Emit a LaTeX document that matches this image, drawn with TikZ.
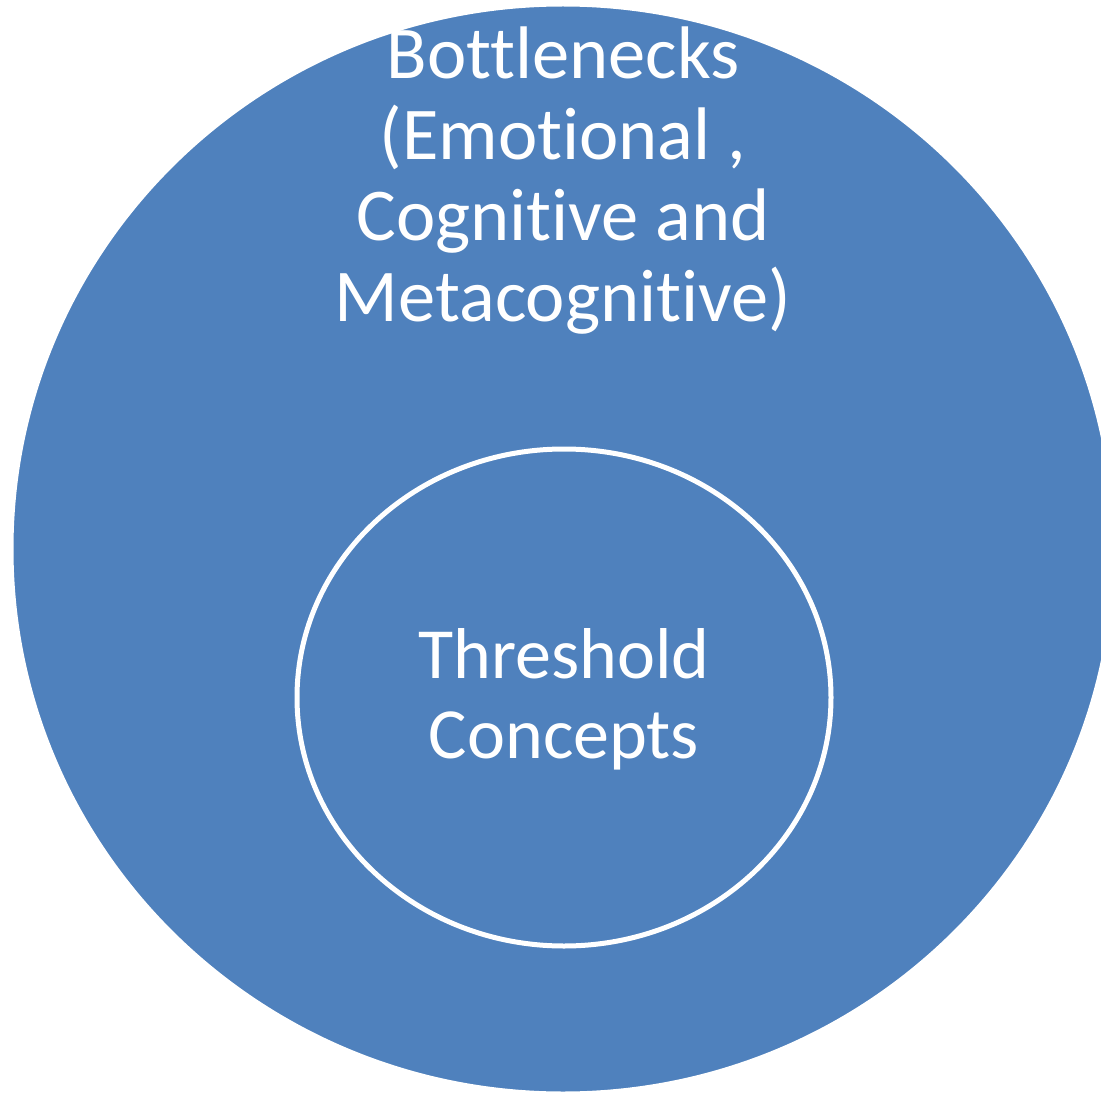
\documentclass[tikz,border=0pt]{standalone}
\usepackage{fontspec}
\setmainfont[Ligatures=NoCommon]{Carlito}
\definecolor{officeblue}{HTML}{4F81BD}
\tikzset{
  bigshape/.style={fill=officeblue, draw=white, line width=3pt},
  innershape/.style={fill=officeblue, draw=white, line width=5pt},
  label/.style={text=white, align=center, inner sep=0pt, font=\fontsize{72pt}{80pt}\selectfont},
  biglabel/.style={label, font=\fontsize{74.5pt}{81pt}\selectfont}
}
\begin{document}
\begin{tikzpicture}[x=1pt,y=1pt]
\useasboundingbox (0,0) rectangle (1101,-1094);
\clip (0,0) rectangle (1101,-1094);
\draw[bigshape] (563,-549) ellipse [x radius=551, y radius=544];
\node[biglabel] (outer) at (563,-181) {Bottlenecks\\(Emotional ,\\Cognitive and\\Metacognitive)};
\draw[innershape] (564,-697.5) ellipse [x radius=267, y radius=248.5];
\node[label] (inner) at (564,-699.5) {Threshold\\Concepts};
\end{tikzpicture}
\end{document}
